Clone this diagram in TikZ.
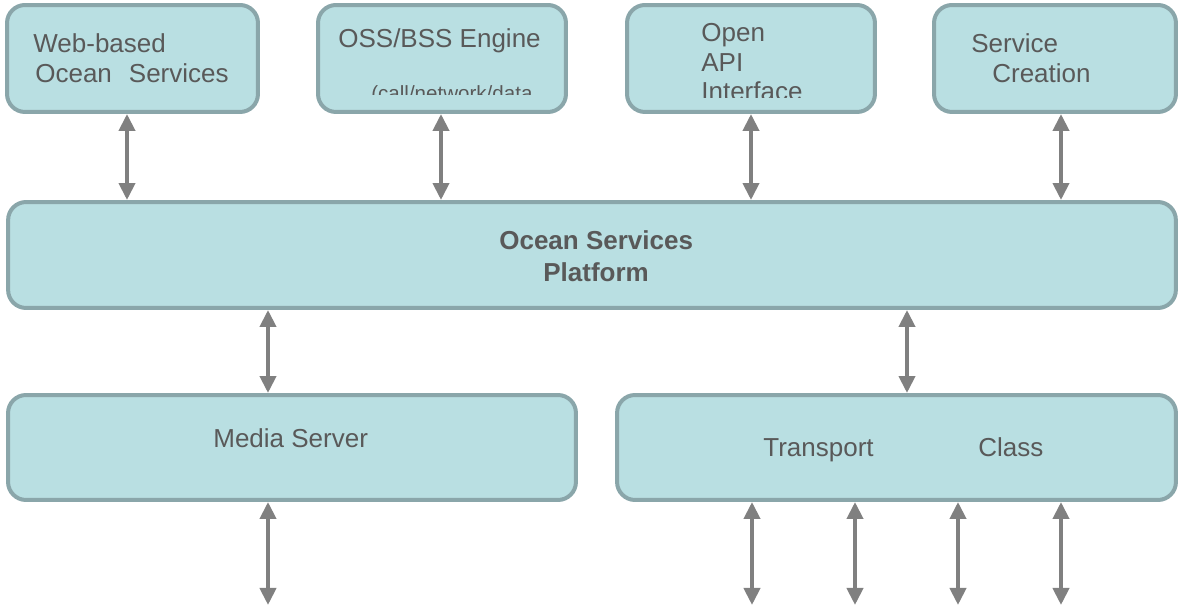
\documentclass[tikz,border=0pt]{standalone}
\usepackage{fontspec}
\setmainfont{Liberation Sans}
\usepackage{tikz}
\usetikzlibrary{arrows.meta}
\definecolor{boxfill}{HTML}{B9DFE2}
\definecolor{boxline}{HTML}{8AA6AA}
\definecolor{txt}{HTML}{595959}
\definecolor{arr}{HTML}{808080}

\begin{document}
\begin{tikzpicture}[x=0.02cm,y=-0.02cm]
      \useasboundingbox(0,0) rectangle (1178,607);
      \tikzset{B/.style = {shape=rectangle, draw=boxline, fill=boxfill, line width=0.08cm, rounded corners=0.36cm, inner sep=0pt}}
      \tikzset{T/.style = {anchor=base west, inner sep=0pt, text=txt, font=\fontsize{14.8}{17.7}\selectfont}}
      \tikzset{S/.style = {T, font=\fontsize{11.7}{14}\selectfont}}
      \tikzset{E/.style = {draw=arr, line width=0.08cm, {Triangle[width=0.32cm,length=0.34cm]}-{Triangle[width=0.32cm,length=0.34cm]}}}
      % boxes
      \node[B, minimum width=5.02cm, minimum height=2.14cm](web) at (132.5,58.5) {};
      \node[B, minimum width=4.96cm, minimum height=2.14cm](oss) at (442,58.5) {};
      \node[B, minimum width=4.96cm, minimum height=2.14cm](api) at (751,58.5) {};
      \node[B, minimum width=4.84cm, minimum height=2.14cm](crea) at (1055,58.5) {};
      \node[B, minimum width=23.36cm, minimum height=2.12cm](plat) at (592,255) {};
      \node[B, minimum width=11.36cm, minimum height=2.1cm](media) at (292,447.5) {};
      \node[B, minimum width=11.18cm, minimum height=2.1cm](trans) at (896.5,447.5) {};
      % texts
      \node[T](web1) at (33,53) {Web-based};
      \node[T](web2) at (35,83) {Ocean\hspace{0.34cm}Services};
      \node[T](oss1) at (338,48) {OSS/BSS Engine};
      \begin{scope}
        \clip (318,5) rectangle (566,95);
        \node[S](oss2) at (371,101) {(call/network/data};
      \end{scope}
      \node[T](api1) at (701,42) {Open};
      \node[T](api2) at (701,72) {API};
      \begin{scope}
        \clip (627,5) rectangle (875,98);
        \node[T](api3) at (701,101) {Interface};
      \end{scope}
      \node[T](crea1) at (971,53) {Service};
      \node[T](crea2) at (992,83) {Creation};
      \node[T,font=\fontsize{14.8}{17.7}\selectfont\bfseries](plat1) at (499,250) {Ocean Services};
      \node[T,font=\fontsize{14.8}{17.7}\selectfont\bfseries](plat2) at (543,282) {Platform};
      \node[T](media1) at (213,448) {Media Server};
      \node[T](trans1) at (763,457) {Transport};
      \node[T](trans2) at (978,457) {Class};
      % free ends below
      \coordinate (mout) at (268,605);
      \foreach \n/\x in {1/752,2/855,3/958,4/1061}
        \coordinate (tout\n) at (\x,605);
      % connectors
      \draw[E]([xshift=-0.11cm]web.south) to ([xshift=-0.11cm]web.south |- plat.north);
      \draw[E]([xshift=-0.02cm]oss.south) to ([xshift=-0.02cm]oss.south |- plat.north);
      \draw[E](api.south) to (api.south |- plat.north);
      \draw[E]([xshift=0.12cm]crea.south) to ([xshift=0.12cm]crea.south |- plat.north);
      \draw[E](mout |- plat.south) to (mout |- media.north);
      \draw[E]([xshift=0.21cm]trans.north |- plat.south) to ([xshift=0.21cm]trans.north);
      \draw[E](mout |- media.south) to (mout);
      \foreach \n in {1,...,4}
        \draw[E](tout\n |- trans.south) to (tout\n);
    \end{tikzpicture}
\end{document}
